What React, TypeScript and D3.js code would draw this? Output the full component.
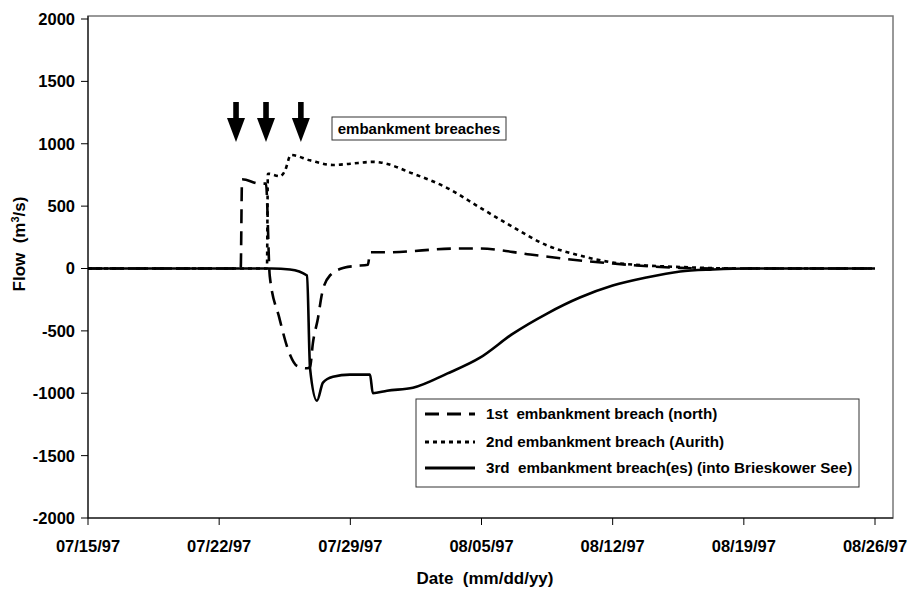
import React from "react";
import * as d3 from "d3";

// days since 07/15/97
const northDays = [0, 8.15, 8.22, 9.18, 9.5, 9.7, 10.2, 10.75, 11.15, 11.7, 11.85, 12.0, 12.27, 12.49, 12.91, 13.71, 14.25, 14.94, 15.05, 15.96, 19.7, 20.9, 23.6, 26.25, 28.0, 31.6, 33.7, 42];
const northFlow = [0, 0, 715, 680, 680, -60, -390, -680, -780, -800, -790, -600, -400, -200, -56, 8, 20, 30, 130, 130, 160, 160, 112, 64, 40, 5, 0, 0];

const aurithDays = [0, 9.55, 9.6, 10.25, 10.5, 10.83, 11.85, 13.07, 14.0, 15.2, 15.6, 17.3, 19.2, 20.9, 22.7, 24.5, 26.25, 28.0, 29.8, 31.6, 34.8, 42];
const aurithFlow = [0, 0, 760, 740, 780, 910, 867, 830, 840, 855, 850, 763, 643, 490, 330, 185, 104, 48, 24, 12, 0, 0];

const brieskowDays = [0, 9.8, 10.78, 11.69, 11.85, 12.22, 12.54, 13.07, 13.98, 15.05, 15.2, 15.96, 17.34, 19.16, 20.92, 22.68, 24.5, 26.25, 28.0, 29.8, 31.6, 33.35, 35.2, 42];
const brieskowFlow = [0, 0, -8, -56, -800, -1060, -915, -868, -851, -851, -1000, -980, -956, -843, -715, -522, -361, -233, -137, -72, -24, -8, 0, 0];

const xTickDays = [0, 7, 14, 21, 28, 35, 42];
const xTickLabels = ["07/15/97", "07/22/97", "07/29/97", "08/05/97", "08/12/97", "08/19/97", "08/26/97"];
const yTicks = [2000, 1500, 1000, 500, 0, -500, -1000, -1500, -2000];
const breachDays = [7.9, 9.5, 11.36];

const legendLabels = [
  "1st  embankment breach (north)",
  "2nd embankment breach (Aurith)",
  "3rd  embankment breach(es) (into Brieskower See)",
];
const dashes = ["14,8", "4,4", null];

export default function App() {
  const W = 908, H = 591;
  const x = d3.scaleLinear().domain([0, 42]).range([88, 875]);
  const y = d3.scaleLinear().domain([-2000, 2000]).range([518, 19]);
  const font = "'Liberation Sans', Arial, sans-serif";

  const mk = (ds: number[], vs: number[]) =>
    d3.line<number>().x((_, i) => x(ds[i])).y((v) => y(v)).curve(d3.curveMonotoneX)(vs) as string;

  const series = [
    { path: mk(northDays, northFlow), dash: dashes[0] },
    { path: mk(aurithDays, aurithFlow), dash: dashes[1] },
    { path: mk(brieskowDays, brieskowFlow), dash: dashes[2] },
  ];

  return (
    <svg width={W} height={H} style={{ position: "absolute", left: 0, top: 0, background: "#fff" }}>
      <rect x={0} y={0} width={W} height={H} fill="#fff" />
      {/* plot frame */}
      <rect x={88} y={16} width={805} height={502} fill="none" stroke="#777" strokeWidth={1.5} />
      {/* axes */}
      <line x1={88} y1={16} x2={88} y2={518} stroke="#000" strokeWidth={1} />
      <line x1={88} y1={518} x2={893} y2={518} stroke="#000" strokeWidth={1} />
      {yTicks.map((t) => (
        <g key={t}>
          <line x1={81} x2={88} y1={y(t)} y2={y(t)} stroke="#000" />
          <text x={75} y={y(t)} dy="0.36em" textAnchor="end" fontFamily={font} fontWeight="bold" fontSize={16.5}>
            {t}
          </text>
        </g>
      ))}
      {xTickDays.map((d, i) => (
        <g key={d}>
          <line x1={x(d)} x2={x(d)} y1={518} y2={525} stroke="#000" />
          <text x={x(d)} y={552} textAnchor="middle" fontFamily={font} fontWeight="bold" fontSize={16.5}>
            {xTickLabels[i]}
          </text>
        </g>
      ))}
      <text x={485} y={584} textAnchor="middle" fontFamily={font} fontWeight="bold" fontSize={17} xmlSpace="preserve">
        Date  (mm/dd/yy)
      </text>
      <text transform="translate(25,244) rotate(-90)" textAnchor="middle" fontFamily={font} fontWeight="bold" fontSize={17} xmlSpace="preserve">
        Flow  (m<tspan dy={-6} fontSize={11}>3</tspan><tspan dy={6}>/s)</tspan>
      </text>

      {/* series */}
      {series.map((s, i) => (
        <path key={i} d={s.path} fill="none" stroke="#000" strokeWidth={2.6}
          strokeDasharray={s.dash ?? undefined} strokeLinejoin="round" />
      ))}

      {/* arrows */}
      {breachDays.map((d, i) => {
        const cx = x(d);
        return (
          <g key={i}>
            <rect x={cx - 2.8} y={102} width={5.6} height={17} fill="#000" />
            <path d={`M${cx - 9},118 L${cx + 9},118 L${cx},142 Z`} fill="#000" />
          </g>
        );
      })}
      <rect x={332} y={117} width={174} height={23} fill="#fff" stroke="#333" strokeWidth={1} />
      <text x={419} y={129} dy="0.36em" textAnchor="middle" fontFamily={font} fontWeight="bold" fontSize={15}>
        embankment breaches
      </text>

      {/* legend */}
      <rect x={416} y={399} width={443} height={88} fill="#fff" stroke="#333" strokeWidth={1} />
      {legendLabels.map((l, i) => {
        const ly = [414, 442, 468][i];
        return (
          <g key={i}>
            <line x1={425} x2={475} y1={ly} y2={ly} stroke="#000" strokeWidth={2.8}
              strokeDasharray={dashes[i] ?? undefined} />
            <text x={486} y={ly} dy="0.36em" fontFamily={font} fontWeight="bold" fontSize={15.2} xmlSpace="preserve">
              {l}
            </text>
          </g>
        );
      })}
    </svg>
  );
}
